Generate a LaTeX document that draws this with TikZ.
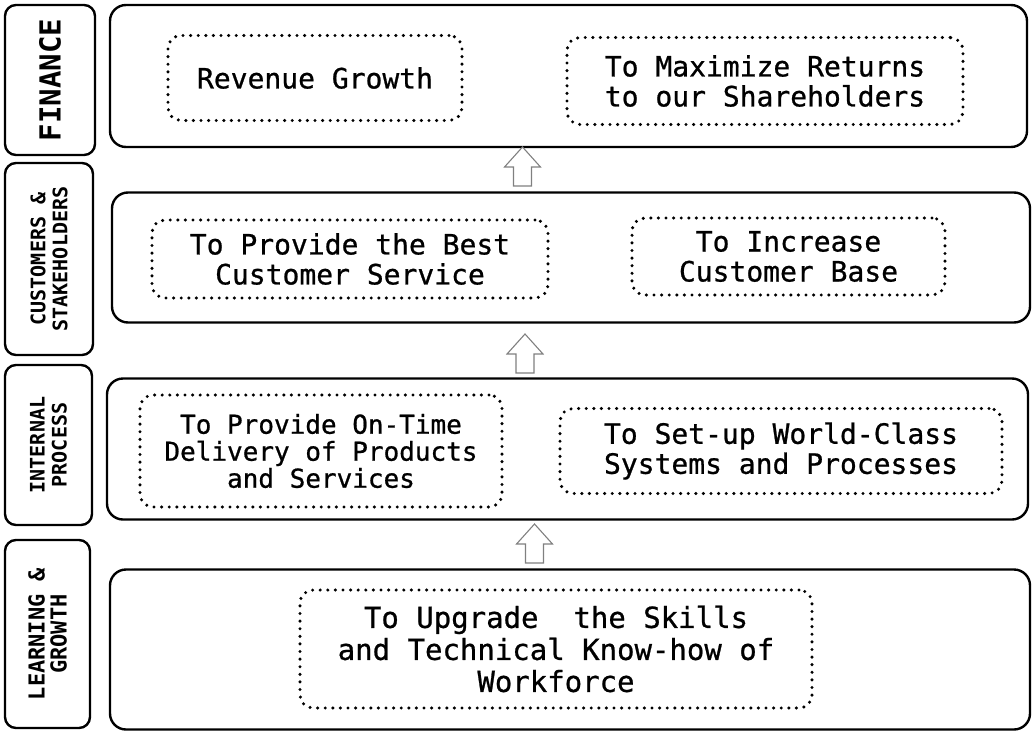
\documentclass[tikz,border=0pt]{standalone}
\usepackage{fontspec}
\newfontfamily\monofam{DejaVu Sans Mono}
\newfontfamily\monomed{DejaVu Sans Mono}[FakeBold=0.8]
\begin{document}
\begin{tikzpicture}[x=1pt,y=-1pt,
  perspective/.style={draw=black, line width=2.4pt, rounded corners=11pt, fill=white,
    inner sep=0pt, align=center, font=\monofam\bfseries, rotate=90},
  band/.style={draw=black, line width=2.4pt, rounded corners=16pt, inner sep=0pt},
  goal/.style={draw=black, line width=3.4pt, dash pattern=on 0pt off 7.6pt, line cap=round,
    rounded corners=13pt, inner sep=0pt, align=center, text=black},
  goaltext/.style={font=\monomed\fontsize{28}{30}\selectfont},
  uparrow/.pic={\draw[draw=black!50, line width=1.1pt, fill=white, line join=miter]
      (-9,20) -- (-9,1) -- (-18,1) -- (0,-19) -- (18,1) -- (9,1) -- (9,20) -- cycle;}
]
\useasboundingbox (0,0) rectangle (1032,733);

% perspective labels on the left
\node[perspective, minimum width=150pt, minimum height=90pt,
      font=\monofam\bfseries\fontsize{29}{30}\selectfont] (pfin) at (50,80) {FINANCE};
\node[perspective, minimum width=192pt, minimum height=88pt,
      font=\monofam\bfseries\fontsize{20}{22}\selectfont] (pcus) at (49,259) {CUSTOMERS \&\\STAKEHOLDERS};
\node[perspective, minimum width=160pt, minimum height=87pt,
      font=\monofam\bfseries\fontsize{20}{22}\selectfont] (pint) at (48.5,445) {INTERNAL\\PROCESS};
\node[perspective, minimum width=188pt, minimum height=85pt,
      font=\monofam\bfseries\fontsize{22}{22}\selectfont] (plea) at (47.5,634) {LEARNING \&\\GROWTH};

% objective bands
\node[band, minimum width=917pt, minimum height=142pt] (bfin) at (568.5,76) {};
\node[band, minimum width=918pt, minimum height=130pt] (bcus) at (571,257.5) {};
\node[band, minimum width=921pt, minimum height=141pt] (bint) at (567.5,449) {};
\node[band, minimum width=920pt, minimum height=160pt] (blea) at (570,649.5) {};

% goals
\node[goal, goaltext, minimum width=294pt, minimum height=85pt] (grev) at (315,78) {Revenue Growth};
\node[goal, goaltext, minimum width=396pt, minimum height=87pt] (gret) at (765,81) {To Maximize Returns\\to our Shareholders};
\node[goal, goaltext, minimum width=396pt, minimum height=78pt] (gsrv) at (350,259) {To Provide the Best\\Customer Service};
\node[goal, goaltext, minimum width=313pt, minimum height=77pt] (gbas) at (788.5,256.5) {To Increase\\Customer Base};
\node[goal, font=\monomed\fontsize{26}{27}\selectfont, minimum width=362pt, minimum height=112pt] (gdel) at (321,451) {To Provide On-Time\\Delivery of Products\\and Services};
\node[goal, goaltext, minimum width=442pt, minimum height=85pt] (gsys) at (781,451) {To Set-up World-Class\\Systems and Processes};
\node[goal, font=\monomed\fontsize{29}{32}\selectfont, minimum width=512pt, minimum height=118pt] (gskl) at (556,649) {To Upgrade\ \ the Skills\\and Technical Know-how of\\Workforce};

% upward arrows between the bands
\pic at (522.5,166) {uparrow};
\pic at (525,353) {uparrow};
\pic at (534.5,543) {uparrow};
\end{tikzpicture}
\end{document}
